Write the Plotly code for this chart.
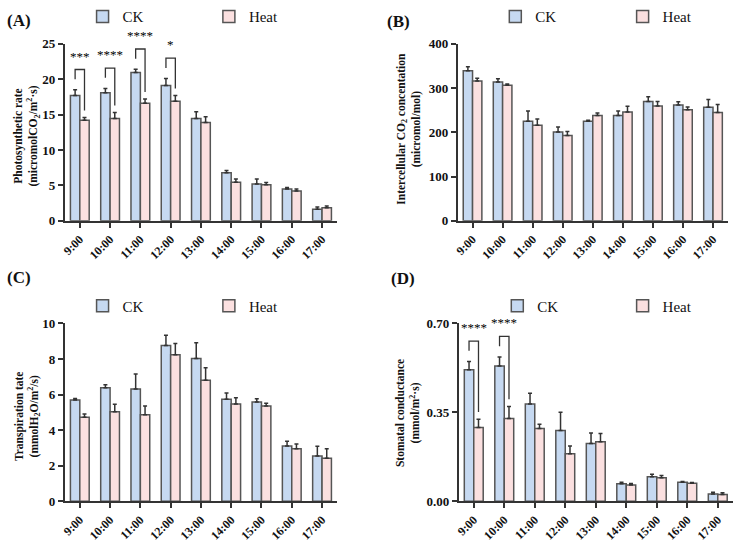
import plotly.graph_objects as go

times = ['9:00', '10:00', '11:00', '12:00', '13:00', '14:00', '15:00', '16:00', '17:00']

# (A) Photosynthetic rate
A_ck = [17.7, 18.1, 20.95, 19.1, 14.45, 6.8, 5.2, 4.5, 1.65]
A_ck_err = [0.8, 0.6, 0.45, 1.0, 0.95, 0.3, 0.7, 0.2, 0.3]
A_heat = [14.2, 14.45, 16.6, 16.9, 13.9, 5.45, 5.1, 4.2, 1.85]
A_heat_err = [0.4, 0.85, 0.6, 0.8, 0.8, 0.45, 0.3, 0.3, 0.25]
A_sig = {0: '***', 1: '****', 2: '****', 3: '*'}

# (B) Intercellular CO2 concentration
B_ck = [339, 314, 225, 201, 225, 238, 269.5, 262, 256.5]
B_ck_err = [9, 7, 23, 11, 2.5, 10.5, 11, 7, 17.5]
B_heat = [316, 306.5, 216, 193, 238, 246, 259.5, 251, 245]
B_heat_err = [6, 2.5, 14, 9, 5.5, 13, 10, 6, 18]
B_sig = {}

# (C) Transpiration rate
C_ck = [5.69, 6.38, 6.31, 8.76, 8.02, 5.73, 5.58, 3.11, 2.55]
C_ck_err = [0.09, 0.17, 0.84, 0.57, 0.89, 0.36, 0.18, 0.27, 0.54]
C_heat = [4.73, 5.04, 4.87, 8.24, 6.80, 5.47, 5.35, 2.96, 2.42]
C_heat_err = [0.18, 0.41, 0.49, 0.63, 0.71, 0.35, 0.16, 0.26, 0.54]
C_sig = {}

# (D) Stomatal conductance
D_ck = [0.518, 0.532, 0.383, 0.279, 0.227, 0.069, 0.097, 0.075, 0.029]
D_ck_err = [0.032, 0.036, 0.042, 0.071, 0.042, 0.006, 0.009, 0.003, 0.007]
D_heat = [0.290, 0.326, 0.286, 0.187, 0.234, 0.064, 0.093, 0.071, 0.027]
D_heat_err = [0.033, 0.047, 0.017, 0.031, 0.033, 0.006, 0.009, 0.003, 0.007]
D_sig = {0: '****', 1: '****'}

FONT = 'Liberation Serif, Times New Roman, Times, serif'
CK_FILL = '#c6d9f1'
HEAT_FILL = '#fbe0e0'
EDGE = '#555555'
AX = '#333333'
TXT = '#111111'

W, H = 735, 548
def px(x0, x1):
    return [x0 / W, x1 / W]
def py(top, bottom):
    return [1 - bottom / H, 1 - top / H]

panels = [
    dict(key='A', ck=A_ck, cke=A_ck_err, ht=A_heat, hte=A_heat_err, sig=A_sig,
         xd=px(61, 335), yd=py(35, 218), rng=[0, 25], tv=[0, 5, 10, 15, 20, 25], tt=None,
         title='Photosynthetic rate<br>(micromolCO<sub>2</sub>/m<sup>2</sup>·s)',
         t_x=23, t_y=130, leg=(79, 206), leg_y=7, lab_x=1, lab_y=11),
    dict(key='B', ck=B_ck, cke=B_ck_err, ht=B_heat, hte=B_heat_err, sig=B_sig,
         xd=px(456, 728), yd=py(35, 218), rng=[0, 400], tv=[0, 100, 200, 300, 400], tt=None,
         title='Intercellular CO<sub>2</sub> concentation<br>(micromol/mol)',
         t_x=407, t_y=123, leg=(494, 622), leg_y=7, lab_x=383, lab_y=12),
    dict(key='C', ck=C_ck, cke=C_ck_err, ht=C_heat, hte=C_heat_err, sig=C_sig,
         xd=px(61, 335), yd=py(324, 508), rng=[0, 10], tv=[0, 2, 4, 6, 8, 10], tt=None,
         title='Transpiration tate<br>(mmolH<sub>2</sub>O/m<sup>2</sup>/s)',
         t_x=23, t_y=420, leg=(79, 206), leg_y=306, lab_x=1, lab_y=277),
    dict(key='D', ck=D_ck, cke=D_ck_err, ht=D_heat, hte=D_heat_err, sig=D_sig,
         xd=px(457, 733), yd=py(324, 508), rng=[0, 0.70], tv=[0, 0.35, 0.70],
         tt=['0.00', '0.35', '0.70'],
         title='Stomatal conductance<br>(mmol/m<sup>2</sup>·s)',
         t_x=407, t_y=417, leg=(496, 622), leg_y=306, lab_x=387, lab_y=278),
]

fig = go.Figure()
xs = list(range(len(times)))
OFF = 0.155
annotations = []
legends = {}

for k, p in enumerate(panels):
    n = '' if k == 0 else str(k + 1)
    xa, ya = 'x' + n, 'y' + n
    for j, (name, vals, errs, fill) in enumerate([('CK', p['ck'], p['cke'], CK_FILL),
                                                  ('Heat', p['ht'], p['hte'], HEAT_FILL)]):
        li = 2 * k + j + 1
        leg = 'legend' if li == 1 else 'legend' + str(li)
        fig.add_trace(go.Bar(
            x=xs, y=vals, name=name, xaxis=xa, yaxis=ya, legend=leg,
            offsetgroup=name,
            marker=dict(color=fill, line=dict(color=EDGE, width=1.5)),
            error_y=dict(type='data', array=errs, arrayminus=[0] * len(errs),
                         symmetric=False, color=AX, thickness=1.5, width=2),
        ))
        legends[leg] = dict(
            orientation='h', x=p['leg'][j] / W, y=1 - p['leg_y'] / H, xanchor='left',
            yanchor='middle', xref='paper', yref='paper', bgcolor='rgba(0,0,0,0)',
            font=dict(family=FONT, size=15, color=TXT), itemclick=False,
            itemdoubleclick=False)
    R = p['rng'][1] - p['rng'][0]
    for i, stars in p['sig'].items():
        left = p['ck'][i] + p['cke'][i] + 0.06 * R
        right = p['ht'][i] + p['hte'][i] + 0.04 * R
        top = max(left, right) + 0.055 * R
        fig.add_trace(go.Scatter(
            x=[i - OFF, i - OFF, i + OFF, i + OFF], y=[left, top, top, right],
            mode='lines', line=dict(color=AX, width=1.3), xaxis=xa, yaxis=ya,
            showlegend=False, hoverinfo='skip', cliponaxis=False))
        annotations.append(dict(x=i, y=top, xref=xa, yref=ya, text=stars,
                                showarrow=False, yanchor='bottom', yshift=4,
                                font=dict(family=FONT, size=13, color='#000000')))
    fig.layout['xaxis' + n] = dict(
        domain=p['xd'], anchor=ya, range=[-0.5, 8.5], tickmode='array',
        tickvals=xs, ticktext=times, tickangle=-45, ticks='outside', ticklen=5,
        tickwidth=1.5, tickcolor=AX, showline=True, linecolor=AX, linewidth=1.5,
        showgrid=False, zeroline=False,
        tickfont=dict(family=FONT, size=12, color=TXT, weight='bold'))
    yax = dict(
        domain=p['yd'], anchor=xa, range=p['rng'], tickmode='array', tickvals=p['tv'],
        ticks='outside', ticklen=5, tickwidth=1.5, tickcolor=AX, showline=True,
        linecolor=AX, linewidth=1.5, showgrid=False, zeroline=False,
        tickfont=dict(family=FONT, size=13, color=TXT, weight='bold'))
    if p['tt']:
        yax['ticktext'] = p['tt']
    fig.layout['yaxis' + n] = yax
    annotations.append(dict(x=p['t_x'] / W, y=1 - p['t_y'] / H, xref='paper', yref='paper',
                            text=p['title'], textangle=-90, showarrow=False,
                            xanchor='center', yanchor='middle',
                            font=dict(family=FONT, size=11.5, color=TXT, weight='bold')))
    annotations.append(dict(x=p['lab_x'] / W, y=1 - p['lab_y'] / H, xref='paper',
                            yref='paper', text='(' + p['key'] + ')', showarrow=False,
                            xanchor='left', yanchor='middle',
                            font=dict(family=FONT, size=17, color=TXT, weight='bold')))

fig.update_layout(
    width=W, height=H, margin=dict(l=0, r=0, t=0, b=0),
    paper_bgcolor='white', plot_bgcolor='white',
    barmode='group', bargap=0.38, bargroupgap=0,
    annotations=annotations, showlegend=True,
    **legends,
)

fig.write_html('out.html')
